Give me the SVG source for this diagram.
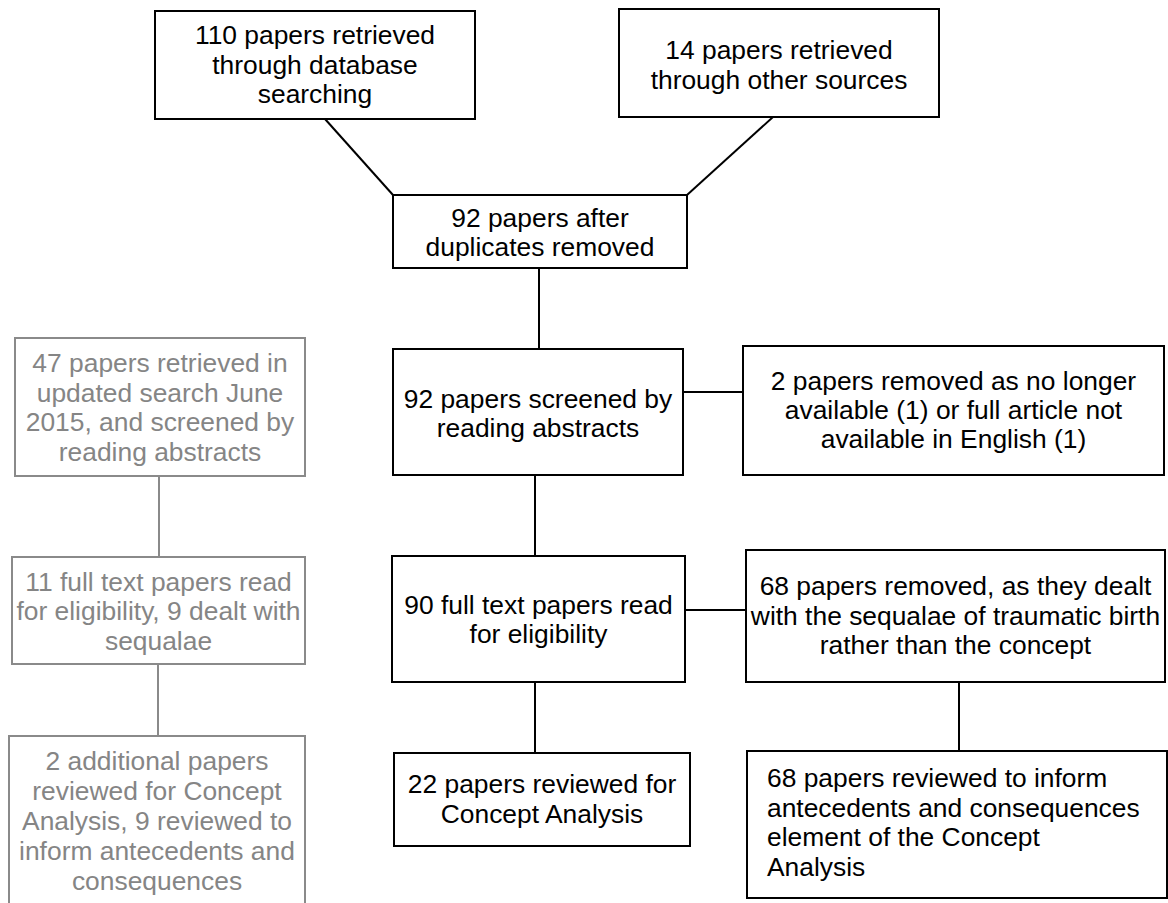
<svg xmlns="http://www.w3.org/2000/svg" width="1168" height="903" viewBox="0 0 1168 903">
<style>
.box{fill:#fff;stroke:#000;stroke-width:2}
.gbox{fill:#fff;stroke:#8a8a8a;stroke-width:2}
.t{font-family:"Liberation Sans",Arial,sans-serif;font-size:26.4px;fill:#000;text-anchor:middle}
.g{fill:#858585}
.l{text-anchor:start}
.c{stroke:#000;stroke-width:2;fill:none}
.gc{stroke:#8a8a8a;stroke-width:2;fill:none}
</style>
<rect width="1168" height="903" fill="#fff"/>
<g id="connectors">
<line class="c" x1="325" y1="119" x2="393" y2="195"/>
<line class="c" x1="773" y1="117" x2="687" y2="195"/>
<line class="c" x1="539" y1="268" x2="539" y2="349"/>
<line class="c" x1="683" y1="392" x2="743" y2="392"/>
<line class="c" x1="535" y1="475" x2="535" y2="556"/>
<line class="c" x1="685" y1="610" x2="746" y2="610"/>
<line class="c" x1="535" y1="682" x2="535" y2="753"/>
<line class="c" x1="959" y1="682" x2="959" y2="751"/>
<line class="gc" x1="159" y1="476" x2="159" y2="557"/>
<line class="gc" x1="158" y1="664" x2="158" y2="736"/>
</g>
<g id="n1">
<rect class="box" x="155" y="11" width="320" height="108"/>
<text class="t" x="315" y="44">110 papers retrieved</text>
<text class="t" x="315" y="73.5">through database</text>
<text class="t" x="315" y="103">searching</text>
</g>
<g id="n2">
<rect class="box" x="619" y="9" width="320" height="108"/>
<text class="t" x="779" y="59">14 papers retrieved</text>
<text class="t" x="779" y="88.5">through other sources</text>
</g>
<g id="n3">
<rect class="box" x="393" y="195" width="294" height="73"/>
<text class="t" x="540" y="227">92 papers after</text>
<text class="t" x="540" y="256">duplicates removed</text>
</g>
<g id="n4">
<rect class="box" x="393" y="349" width="290" height="126"/>
<text class="t" x="538" y="408">92 papers screened by</text>
<text class="t" x="538" y="437">reading abstracts</text>
</g>
<g id="n5">
<rect class="box" x="743" y="346" width="421" height="129"/>
<text class="t" x="953.5" y="390">2 papers removed as no longer</text>
<text class="t" x="953.5" y="419">available (1) or full article not</text>
<text class="t" x="953.5" y="448">available in English (1)</text>
</g>
<g id="n6">
<rect class="box" x="392" y="556" width="293" height="126"/>
<text class="t" x="538.5" y="614">90 full text papers read</text>
<text class="t" x="538.5" y="643">for eligibility</text>
</g>
<g id="n7">
<rect class="box" x="746" y="550" width="419" height="132"/>
<text class="t" x="955.5" y="595">68 papers removed, as they dealt</text>
<text class="t" x="955.5" y="624.5">with the sequalae of traumatic birth</text>
<text class="t" x="955.5" y="654">rather than the concept</text>
</g>
<g id="n8">
<rect class="box" x="394" y="753" width="296" height="93"/>
<text class="t" x="542" y="793">22 papers reviewed for</text>
<text class="t" x="542" y="822.5">Concept Analysis</text>
</g>
<g id="n9">
<rect class="box" x="747" y="751" width="420" height="147"/>
<text class="t l" x="767" y="787">68 papers reviewed to inform</text>
<text class="t l" x="767" y="816.5">antecedents and consequences</text>
<text class="t l" x="767" y="846">element of the Concept</text>
<text class="t l" x="767" y="875.5">Analysis</text>
</g>
<g id="g1">
<rect class="gbox" x="15" y="338" width="290" height="138"/>
<text class="t g" x="160" y="372">47 papers retrieved in</text>
<text class="t g" x="160" y="401.5">updated search June</text>
<text class="t g" x="160" y="431">2015, and screened by</text>
<text class="t g" x="160" y="460.5">reading abstracts</text>
</g>
<g id="g2">
<rect class="gbox" x="12" y="557" width="293" height="107"/>
<text class="t g" x="158.5" y="590.5">11 full text papers read</text>
<text class="t g" x="158.5" y="620">for eligibility, 9 dealt with</text>
<text class="t g" x="158.5" y="649.5">sequalae</text>
</g>
<g id="g3">
<rect class="gbox" x="9" y="736" width="296" height="180"/>
<text class="t g" x="157" y="770">2 additional papers</text>
<text class="t g" x="157" y="800">reviewed for Concept</text>
<text class="t g" x="157" y="830">Analysis, 9 reviewed to</text>
<text class="t g" x="157" y="860">inform antecedents and</text>
<text class="t g" x="157" y="890">consequences</text>
</g>
</svg>
